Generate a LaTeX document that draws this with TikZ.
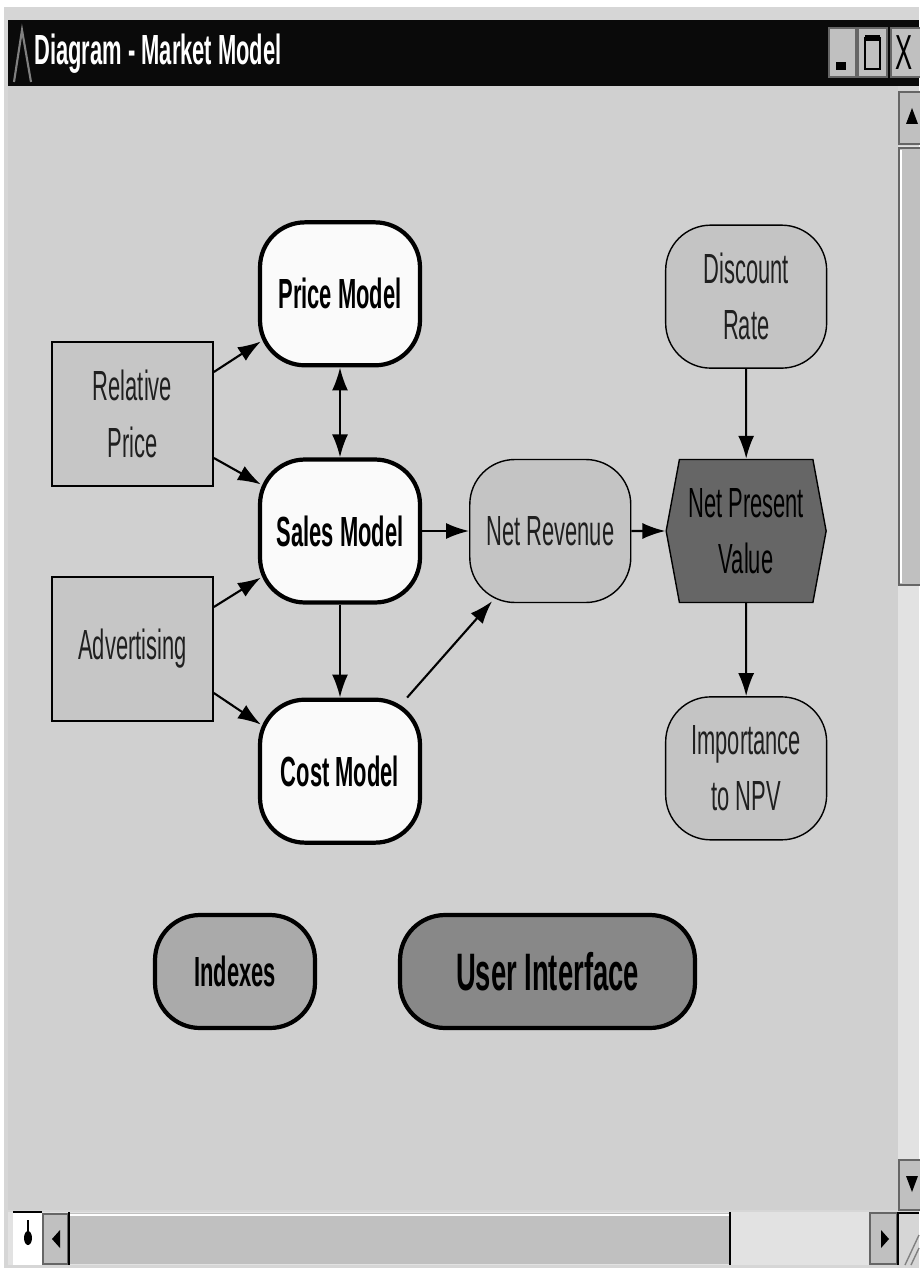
\documentclass[tikz,border=0pt]{standalone}
\usepackage{fontspec}
\setmainfont{Liberation Sans}[FakeStretch=0.52]
\usetikzlibrary{positioning,calc,arrows.meta,shapes.symbols}

\definecolor{canvasgray}{RGB}{208,208,208}
\definecolor{framegray}{RGB}{214,214,214}
\definecolor{btngray}{RGB}{192,192,192}
\definecolor{trackgray}{RGB}{226,226,226}
\definecolor{modwhite}{RGB}{250,250,250}
\definecolor{vargray}{RGB}{196,196,196}
\definecolor{decgray}{RGB}{198,198,198}
\definecolor{npvgray}{RGB}{102,102,102}
\definecolor{idxgray}{RGB}{170,170,170}
\definecolor{uigray}{RGB}{136,136,136}
\definecolor{darktext}{RGB}{32,32,32}

\tikzset{
	modbox/.style = {rectangle, rounded corners=0.9cm, draw=black, line width=2.4pt,
	 fill=modwhite, minimum width=3.2cm, minimum height=2.86cm, font=\bfseries},
	varbox/.style = {rectangle, rounded corners=0.9cm, draw=black, line width=0.8pt,
	 fill=vargray, minimum width=3.22cm, minimum height=2.86cm, text=darktext},
	decbox/.style = {rectangle, draw=black, line width=1pt, fill=decgray,
	 minimum width=3.22cm, minimum height=2.88cm, text=darktext},
	linktip/.tip = {Latex[length=0.46cm,width=0.32cm]},
	link/.style = {line width=1.2pt, -linktip},
	winbtn/.style = {fill=btngray, draw=black!60, line width=0.6pt}
}

\begin{document}
\begin{tikzpicture}[x=0.02cm, y=0.02cm, align=center,
	node font=\fontsize{24}{32}\selectfont]

\useasboundingbox (0,0) rectangle (919,-1270);

% WINDOW
\fill[white] (0,0) rectangle (919,-1270);
\fill[framegray] (4,-7) rectangle (919,-1268);
\fill[black!96] (8,-20) rectangle (919,-86);
\draw[gray, line width=1.2pt] (14,-82) -- (22,-30) -- (31,-82);
\node (title) [anchor=west, inner sep=0pt, text=white, font=\bfseries] at (34,-54) {Diagram - Market Model};
\draw[winbtn] (829,-28) rectangle (856,-77);
\fill (836,-62) rectangle (846,-70);
\draw[winbtn] (858,-28) rectangle (887,-77);
\draw[line width=1.2pt] (865,-38) rectangle (880,-69);
\draw[line width=3pt] (865,-38) -- (880,-38);
\draw[winbtn] (891,-28) rectangle (925,-77);
\node (close) [anchor=west, inner sep=0pt, font=\fontsize{28}{30}\selectfont] at (895,-53) {X};
\fill[canvasgray] (8,-86) rectangle (898,-1210);

% SCROLLBARS
\draw[winbtn] (899,-92) rectangle (925,-144);
\fill (912,-108) -- (906,-124) -- (918,-124) -- cycle;
\fill[trackgray] (898,-146) rectangle (919,-1160);
\draw[winbtn] (899,-148) rectangle (925,-585);
\draw[white, line width=1.2pt] (901,-150) -- (901,-583);
\draw[winbtn] (899,-1160) rectangle (925,-1210);
\fill (912,-1192) -- (906,-1176) -- (918,-1176) -- cycle;
\fill[trackgray] (8,-1212) rectangle (898,-1265);
\fill[white] (13,-1212) rectangle (42,-1265);
\draw[line width=1.5pt] (13,-1212) -- (42,-1212);
\fill (28,-1238) ellipse (4 and 7);
\draw[line width=1.5pt] (28,-1220) -- (28,-1232);
\draw[winbtn] (43,-1214) rectangle (68,-1264);
\fill (52,-1239) -- (60,-1230) -- (60,-1248) -- cycle;
\draw[line width=1.2pt] (69,-1212) -- (69,-1265);
\fill[btngray] (70,-1213) rectangle (730,-1264);
\draw[white, line width=1.2pt] (70,-1215) -- (730,-1215);
\draw[line width=1pt] (730,-1212) -- (730,-1265);
\draw[winbtn] (870,-1213) rectangle (897,-1264);
\fill (889,-1239) -- (881,-1230) -- (881,-1248) -- cycle;
\draw[line width=1.2pt] (898,-1212) -- (898,-1265) (898,-1213) -- (919,-1213);
\draw[gray, line width=0.8pt] (905,-1265) -- (919,-1235) (911,-1265) -- (919,-1248);

% NODES
\node (sales) [modbox] at (340,-531) {Sales Model};
\node (price) [modbox, above=1.8cm of sales] {Price Model};
\node (cost) [modbox, below=1.86cm of sales] {Cost Model};
\node (relprice) [decbox] at (132.5,-414) {Relative\\Price};
\node (advert) [decbox] at (132.5,-649) {Advertising};
\node (netrev) [varbox, right=0.94cm of sales] {Net Revenue};
\node (npv) [signal, signal to=east and west, signal pointer angle=159, draw=black,
	line width=0.8pt, fill=npvgray, minimum width=3.2cm, minimum height=2.86cm,
	inner xsep=2pt, right=0.68cm of netrev] {Net Present\\Value};
\node (disc) [varbox, above=1.8cm of npv] {Discount\\Rate};
\node (imp) [varbox, below=1.86cm of npv] {Importance\\to NPV};
\node (idx) [modbox, fill=idxgray, minimum width=3.2cm, minimum height=2.26cm] at (235,-971.5) {Indexes};
\node (ui) [modbox, fill=uigray, minimum width=5.9cm, minimum height=2.26cm,
	font=\fontsize{30}{36}\selectfont\bfseries] at (547.5,-971.5) {User Interface};

%CONNECTIONS
\draw[link] ($(relprice.east)+(0,42)$) -- ($(price.south west)+(3,26)$);
\draw[link] ($(relprice.east)+(0,-44)$) -- ($(sales.north west)+(3,-27)$);
\draw[link] ($(advert.east)+(0,42)$) -- ($(sales.south west)+(3,27)$);
\draw[link] ($(advert.east)+(0,-44)$) -- ($(cost.north west)+(3,-27)$);
\draw[link, linktip-linktip] (price) -- (sales);
\draw[link] (sales) -- (cost);
\draw[link] (sales) -- (netrev);
\draw[link] ($(cost.north east)+(-15,0)$) -- ($(netrev.south west)+(23,2)$);
\draw[link] (netrev) -- (npv);
\draw[link] (disc) -- (npv);
\draw[link] (npv) -- (imp);

\end{tikzpicture}
\end{document}
